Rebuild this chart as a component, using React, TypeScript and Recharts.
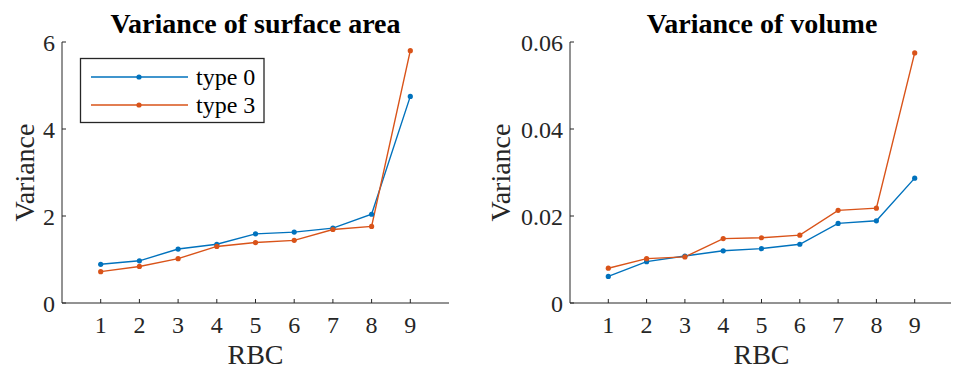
import React from "react"
import { LineChart, Line, XAxis, YAxis } from "recharts"

const rbc = [1, 2, 3, 4, 5, 6, 7, 8, 9]
const areaType0 = [0.89, 0.97, 1.24, 1.35, 1.59, 1.63, 1.72, 2.04, 4.75]
const areaType3 = [0.72, 0.84, 1.02, 1.3, 1.39, 1.44, 1.69, 1.76, 5.8]
const volType0 = [0.0061, 0.0095, 0.0108, 0.012, 0.0125, 0.0135, 0.0183, 0.0189, 0.0287]
const volType3 = [0.008, 0.0102, 0.0106, 0.0148, 0.015, 0.0156, 0.0213, 0.0218, 0.0575]

const xTicks = [1, 2, 3, 4, 5, 6, 7, 8, 9]
const areaTicks = [0, 2, 4, 6]
const volTicks = [0, 0.02, 0.04, 0.06]
const seriesNames = ["type 0", "type 3"]

const BLUE = "#0072BD"
const ORANGE = "#D95319"
const AXIS = "#262626"

function Panel(props: {
  width: number
  yWidth: number
  rightMargin: number
  t0: number[]
  t3: number[]
  yTicks: number[]
  labelOffset: number
}) {
  const { width, yWidth, rightMargin, t0, t3, yTicks, labelOffset } = props
  const data = rbc.map((r, i) => ({ rbc: r, t0: t0[i], t3: t3[i] }))
  const domain = [yTicks[0], yTicks[yTicks.length - 1]]
  return (
    <LineChart width={width} height={369} data={data} margin={{ top: 42, right: rightMargin, bottom: 0, left: 0 }}>
      <XAxis
        dataKey="rbc"
        type="number"
        domain={[0, 10]}
        ticks={xTicks}
        height={66}
        stroke={AXIS}
        tickSize={-4}
        tickMargin={17}
        tick={{ fontSize: 24, fill: AXIS, fontFamily: "Liberation Serif" }}
        label={{ value: "RBC", position: "insideBottom", offset: 5, fontSize: 28, fill: AXIS, fontFamily: "Liberation Serif" }}
      />
      <XAxis xAxisId="top" orientation="top" dataKey="rbc" type="number" domain={[0, 10]} ticks={xTicks} height={0} stroke={AXIS} tickSize={-4} tick={false} />
      <YAxis
        type="number"
        domain={domain}
        ticks={yTicks}
        width={yWidth}
        stroke={AXIS}
        tickSize={-4}
        tickMargin={11}
        tick={{ fontSize: 24, fill: AXIS, fontFamily: "Liberation Serif" }}
        label={{ value: "Variance", angle: -90, position: "insideLeft", offset: labelOffset, fontSize: 28, fill: AXIS, fontFamily: "Liberation Serif", textAnchor: "middle" }}
      />
      <YAxis yAxisId="right" orientation="right" type="number" domain={domain} ticks={yTicks} width={0} stroke={AXIS} tickSize={-4} tick={false} />
      <Line dataKey="t0" name={seriesNames[0]} stroke={BLUE} strokeWidth={1.4} dot={{ r: 2.6, fill: BLUE, stroke: BLUE, strokeWidth: 0 }} isAnimationActive={false} />
      <Line dataKey="t3" name={seriesNames[1]} stroke={ORANGE} strokeWidth={1.4} dot={{ r: 2.6, fill: ORANGE, stroke: ORANGE, strokeWidth: 0 }} isAnimationActive={false} />
    </LineChart>
  )
}

export default function App() {
  return (
    <div style={{ marginLeft: -8, marginTop: -8, width: 959, height: 369, position: "relative" }}>
      <div style={{ display: "flex" }}>
        <Panel width={480} yWidth={62} rightMargin={31} t0={areaType0} t3={areaType3} yTicks={areaTicks} labelOffset={24} />
        <Panel width={479} yWidth={90} rightMargin={6} t0={volType0} t3={volType3} yTicks={volTicks} labelOffset={20} />
      </div>
      <svg width={959} height={369} style={{ position: "absolute", left: 0, top: 0 }}>
        <text x={255.5} y={33} textAnchor="middle" fontSize={28} fontWeight="bold" fill="#000" fontFamily="Liberation Serif">
          Variance of surface area
        </text>
        <text x={762} y={33} textAnchor="middle" fontSize={28} fontWeight="bold" fill="#000" fontFamily="Liberation Serif">
          Variance of volume
        </text>
        <rect x={80.5} y={58.5} width={183.5} height={64} fill="#fff" stroke={AXIS} strokeWidth={1.3} />
        {[BLUE, ORANGE].map((c, i) => (
          <g key={c}>
            <line x1={91} x2={188} y1={77 + i * 28} y2={77 + i * 28} stroke={c} strokeWidth={1.4} />
            <circle cx={139} cy={77 + i * 28} r={2.6} fill={c} />
            <text x={196} y={85 + i * 28} fontSize={24} fill="#000" fontFamily="Liberation Serif">
              {seriesNames[i]}
            </text>
          </g>
        ))}
      </svg>
    </div>
  )
}
